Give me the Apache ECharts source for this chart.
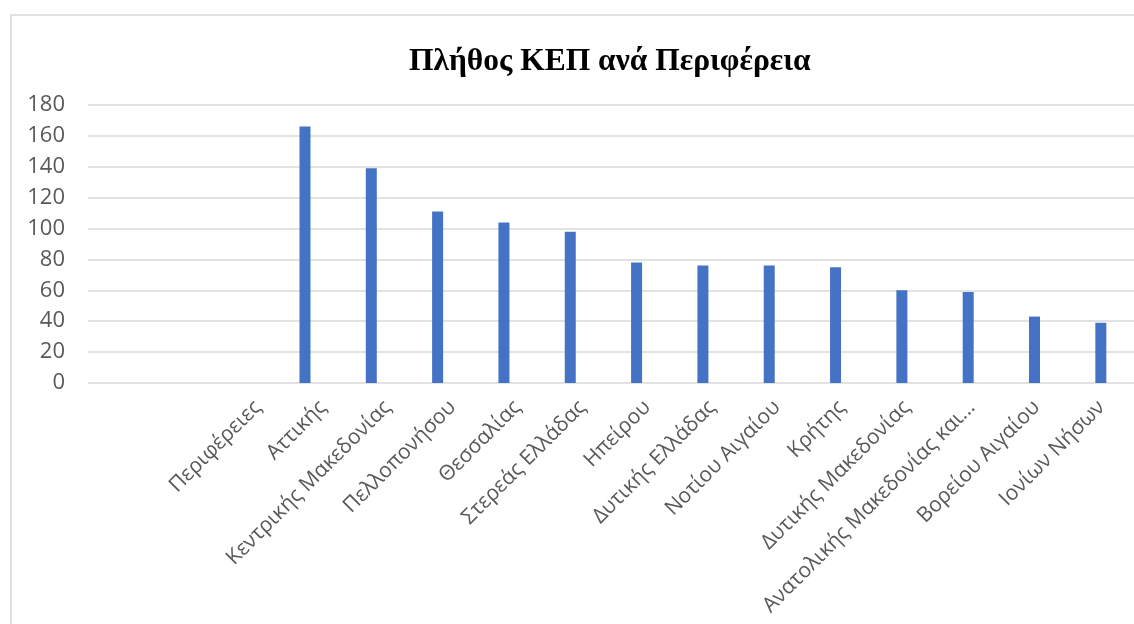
<!DOCTYPE html>
<html>
<head>
<meta charset="utf-8">
<script src="https://cdn.jsdelivr.net/npm/echarts@6/dist/echarts.min.js"></script>
<style>
html,body{margin:0;padding:0;background:#fff;}
#c{width:1134px;height:624px;}
</style>
</head>
<body>
<div id="c"></div>
<script>
const titleText = 'Πλήθος ΚΕΠ ανά Περιφέρεια';
const categories = ['Περιφέρειες','Αττικής','Κεντρικής Μακεδονίας','Πελλοπονήσου','Θεσσαλίας','Στερεάς Ελλάδας','Ηπείρου','Δυτικής Ελλάδας','Νοτίου Αιγαίου','Κρήτης','Δυτικής Μακεδονίας','Ανατολικής Μακεδονίας και...','Βορείου Αιγαίου','Ιονίων Νήσων'];
const values = [null,166,139,111,104,98,78,76,76,75,60,59,43,39];
const yTicks = {min:0, max:180, interval:20};

const chart = echarts.init(document.getElementById('c'));
const labelColor = '#595959';
chart.setOption({
  animation:false,
  backgroundColor:'#fff',
  title:{text:titleText,left:404,top:41,textStyle:{fontFamily:'Liberation Serif',fontWeight:'bold',fontSize:31.5,color:'#000'}},
  graphic:[{type:'rect',shape:{x:11,y:15,width:1200,height:700},style:{fill:'none',stroke:'#d9d9d9',lineWidth:1.5},silent:true}],
  grid:[
    {left:88,right:0,top:105,bottom:241},
    {left:205.5,right:0,top:105,bottom:241},
    {left:225.5,right:-20,top:105,bottom:241}
  ],
  xAxis:[
    {gridIndex:0,type:'category',data:categories,show:false},
    {gridIndex:1,type:'category',data:categories,axisLine:{show:false},axisTick:{show:false},axisLabel:{show:false}},
    {gridIndex:2,type:'category',data:categories,axisLine:{show:false},axisTick:{show:false},
     axisLabel:{interval:0,rotate:45,margin:21,color:labelColor,fontFamily:'Open Sans',fontSize:21}}
  ],
  yAxis:[
    {gridIndex:0,type:'value',min:yTicks.min,max:yTicks.max,interval:yTicks.interval,
     axisLine:{show:false},axisTick:{show:false},
     axisLabel:{color:labelColor,fontFamily:'Open Sans',fontSize:22,margin:23},
     splitLine:{lineStyle:{color:'#d9d9d9',width:1.5}}},
    {gridIndex:1,type:'value',min:yTicks.min,max:yTicks.max,interval:yTicks.interval,show:false,splitLine:{show:false}},
    {gridIndex:2,type:'value',min:yTicks.min,max:yTicks.max,interval:yTicks.interval,show:false,splitLine:{show:false}}
  ],
  series:[{type:'bar',xAxisIndex:1,yAxisIndex:1,data:values,barWidth:11,itemStyle:{color:'#4472c4'}}]
});
</script>
</body>
</html>
